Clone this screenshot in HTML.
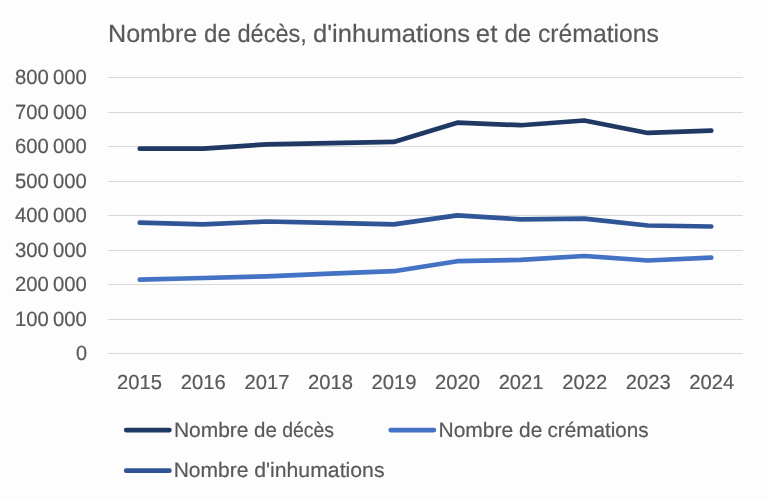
<!DOCTYPE html>
<html><head><meta charset="utf-8"><style>
html,body{margin:0;padding:0;background:#FDFDFD;overflow:hidden;}
svg{display:block;will-change:transform;}
text{font-family:"Liberation Sans", sans-serif;text-rendering:geometricPrecision;fill:#595959;stroke:#595959;stroke-width:0.2px;}
</style></head><body>
<svg width="768" height="501" viewBox="0 0 768 501">
<rect width="768" height="501" fill="#FDFDFD"/>
<line x1="108" y1="353.5" x2="743" y2="353.5" stroke="#D9D9D9" stroke-width="1.2"/>
<line x1="108" y1="319.5" x2="743" y2="319.5" stroke="#D9D9D9" stroke-width="1.2"/>
<line x1="108" y1="284.5" x2="743" y2="284.5" stroke="#D9D9D9" stroke-width="1.2"/>
<line x1="108" y1="250.5" x2="743" y2="250.5" stroke="#D9D9D9" stroke-width="1.2"/>
<line x1="108" y1="215.5" x2="743" y2="215.5" stroke="#D9D9D9" stroke-width="1.2"/>
<line x1="108" y1="181.5" x2="743" y2="181.5" stroke="#D9D9D9" stroke-width="1.2"/>
<line x1="108" y1="146.5" x2="743" y2="146.5" stroke="#D9D9D9" stroke-width="1.2"/>
<line x1="108" y1="112.5" x2="743" y2="112.5" stroke="#D9D9D9" stroke-width="1.2"/>
<line x1="108" y1="77.5" x2="743" y2="77.5" stroke="#D9D9D9" stroke-width="1.2"/>
<text id="yA1" x="14.88" y="325.70" font-size="20.6" textLength="33.79" lengthAdjust="spacingAndGlyphs">100</text>
<text id="yB1" x="52.98" y="325.70" font-size="20.6" textLength="33.79" lengthAdjust="spacingAndGlyphs">000</text>
<text id="yA2" x="14.88" y="291.20" font-size="20.6" textLength="33.79" lengthAdjust="spacingAndGlyphs">200</text>
<text id="yB2" x="52.98" y="291.20" font-size="20.6" textLength="33.79" lengthAdjust="spacingAndGlyphs">000</text>
<text id="yA3" x="14.88" y="256.70" font-size="20.6" textLength="33.79" lengthAdjust="spacingAndGlyphs">300</text>
<text id="yB3" x="52.98" y="256.70" font-size="20.6" textLength="33.79" lengthAdjust="spacingAndGlyphs">000</text>
<text id="yA4" x="14.88" y="222.20" font-size="20.6" textLength="33.79" lengthAdjust="spacingAndGlyphs">400</text>
<text id="yB4" x="52.98" y="222.20" font-size="20.6" textLength="33.79" lengthAdjust="spacingAndGlyphs">000</text>
<text id="yA5" x="14.88" y="187.70" font-size="20.6" textLength="33.79" lengthAdjust="spacingAndGlyphs">500</text>
<text id="yB5" x="52.98" y="187.70" font-size="20.6" textLength="33.79" lengthAdjust="spacingAndGlyphs">000</text>
<text id="yA6" x="14.88" y="153.20" font-size="20.6" textLength="33.79" lengthAdjust="spacingAndGlyphs">600</text>
<text id="yB6" x="52.98" y="153.20" font-size="20.6" textLength="33.79" lengthAdjust="spacingAndGlyphs">000</text>
<text id="yA7" x="14.88" y="118.70" font-size="20.6" textLength="33.79" lengthAdjust="spacingAndGlyphs">700</text>
<text id="yB7" x="52.98" y="118.70" font-size="20.6" textLength="33.79" lengthAdjust="spacingAndGlyphs">000</text>
<text id="yA8" x="14.88" y="84.20" font-size="20.6" textLength="33.79" lengthAdjust="spacingAndGlyphs">800</text>
<text id="yB8" x="52.98" y="84.20" font-size="20.6" textLength="33.79" lengthAdjust="spacingAndGlyphs">000</text>
<text id="y0" x="76.09" y="360.20" font-size="20.6" textLength="11.06" lengthAdjust="spacingAndGlyphs">0</text>
<text id="x2015" x="117.08" y="389.40" font-size="20.3" textLength="44.97" lengthAdjust="spacingAndGlyphs">2015</text>
<text id="x2016" x="180.75" y="389.40" font-size="20.3" textLength="44.97" lengthAdjust="spacingAndGlyphs">2016</text>
<text id="x2017" x="244.41" y="389.40" font-size="20.3" textLength="44.97" lengthAdjust="spacingAndGlyphs">2017</text>
<text id="x2018" x="307.93" y="389.40" font-size="20.3" textLength="44.97" lengthAdjust="spacingAndGlyphs">2018</text>
<text id="x2019" x="371.44" y="389.40" font-size="20.3" textLength="44.97" lengthAdjust="spacingAndGlyphs">2019</text>
<text id="x2020" x="434.98" y="389.40" font-size="20.3" textLength="44.97" lengthAdjust="spacingAndGlyphs">2020</text>
<text id="x2021" x="498.63" y="389.40" font-size="20.3" textLength="44.97" lengthAdjust="spacingAndGlyphs">2021</text>
<text id="x2022" x="562.22" y="389.40" font-size="20.3" textLength="44.97" lengthAdjust="spacingAndGlyphs">2022</text>
<text id="x2023" x="625.73" y="389.40" font-size="20.3" textLength="44.97" lengthAdjust="spacingAndGlyphs">2023</text>
<text id="x2024" x="689.21" y="389.40" font-size="20.3" textLength="44.97" lengthAdjust="spacingAndGlyphs">2024</text>
<text id="title_0" x="108.00" y="42.08" font-size="24.9" textLength="89.34" lengthAdjust="spacingAndGlyphs">Nombre</text>
<text id="title_1" x="204.02" y="42.08" font-size="24.9" textLength="26.74" lengthAdjust="spacingAndGlyphs">de</text>
<text id="title_2" x="237.47" y="42.08" font-size="24.9" textLength="69.45" lengthAdjust="spacingAndGlyphs">décès,</text>
<text id="title_3" x="312.96" y="42.08" font-size="24.9" textLength="157.01" lengthAdjust="spacingAndGlyphs">d'inhumations</text>
<text id="title_4" x="475.82" y="42.08" font-size="24.9" textLength="21.57" lengthAdjust="spacingAndGlyphs">et</text>
<text id="title_5" x="504.42" y="42.08" font-size="24.9" textLength="26.71" lengthAdjust="spacingAndGlyphs">de</text>
<text id="title_6" x="537.97" y="42.08" font-size="24.9" textLength="120.89" lengthAdjust="spacingAndGlyphs">crémations</text>
<text id="leg1_0" x="173.90" y="436.50" font-size="20.8" textLength="74.64" lengthAdjust="spacingAndGlyphs">Nombre</text>
<text id="leg1_1" x="254.02" y="436.50" font-size="20.8" textLength="22.79" lengthAdjust="spacingAndGlyphs">de</text>
<text id="leg1_2" x="282.26" y="436.50" font-size="20.8" textLength="51.81" lengthAdjust="spacingAndGlyphs">décès</text>
<text id="leg2_0" x="438.51" y="436.50" font-size="20.8" textLength="74.75" lengthAdjust="spacingAndGlyphs">Nombre</text>
<text id="leg2_1" x="519.10" y="436.50" font-size="20.8" textLength="23.18" lengthAdjust="spacingAndGlyphs">de</text>
<text id="leg2_2" x="547.54" y="436.50" font-size="20.8" textLength="101.09" lengthAdjust="spacingAndGlyphs">crémations</text>
<text id="leg3_0" x="173.70" y="477.00" font-size="20.8" textLength="74.78" lengthAdjust="spacingAndGlyphs">Nombre</text>
<text id="leg3_1" x="254.19" y="477.00" font-size="20.8" textLength="130.33" lengthAdjust="spacingAndGlyphs">d'inhumations</text>
<polyline points="139.75,279.70 203.25,278.00 266.75,276.40 330.25,273.60 393.75,271.20 457.25,261.20 520.75,259.90 584.25,256.00 647.75,260.50 711.25,257.70" fill="none" stroke="#4472C4" stroke-width="4.7" stroke-linecap="round" stroke-linejoin="round"/>
<polyline points="139.75,222.60 203.25,224.40 266.75,221.50 330.25,222.90 393.75,224.40 457.25,215.30 520.75,219.30 584.25,218.60 647.75,225.50 711.25,226.50" fill="none" stroke="#2F5597" stroke-width="4.7" stroke-linecap="round" stroke-linejoin="round"/>
<polyline points="139.75,148.68 203.25,148.62 266.75,144.34 330.25,143.17 393.75,141.93 457.25,122.69 520.75,125.22 584.25,120.53 647.75,132.94 711.25,130.63" fill="none" stroke="#1F3864" stroke-width="4.7" stroke-linecap="round" stroke-linejoin="round"/>
<line x1="126.2" y1="430.1" x2="169.4" y2="430.1" stroke="#1F3864" stroke-width="4.7" stroke-linecap="round"/>
<line x1="390.7" y1="430.1" x2="433.9" y2="430.1" stroke="#4472C4" stroke-width="4.7" stroke-linecap="round"/>
<line x1="126.2" y1="470.7" x2="169.4" y2="470.7" stroke="#2F5597" stroke-width="4.7" stroke-linecap="round"/>
</svg>
</body></html>
